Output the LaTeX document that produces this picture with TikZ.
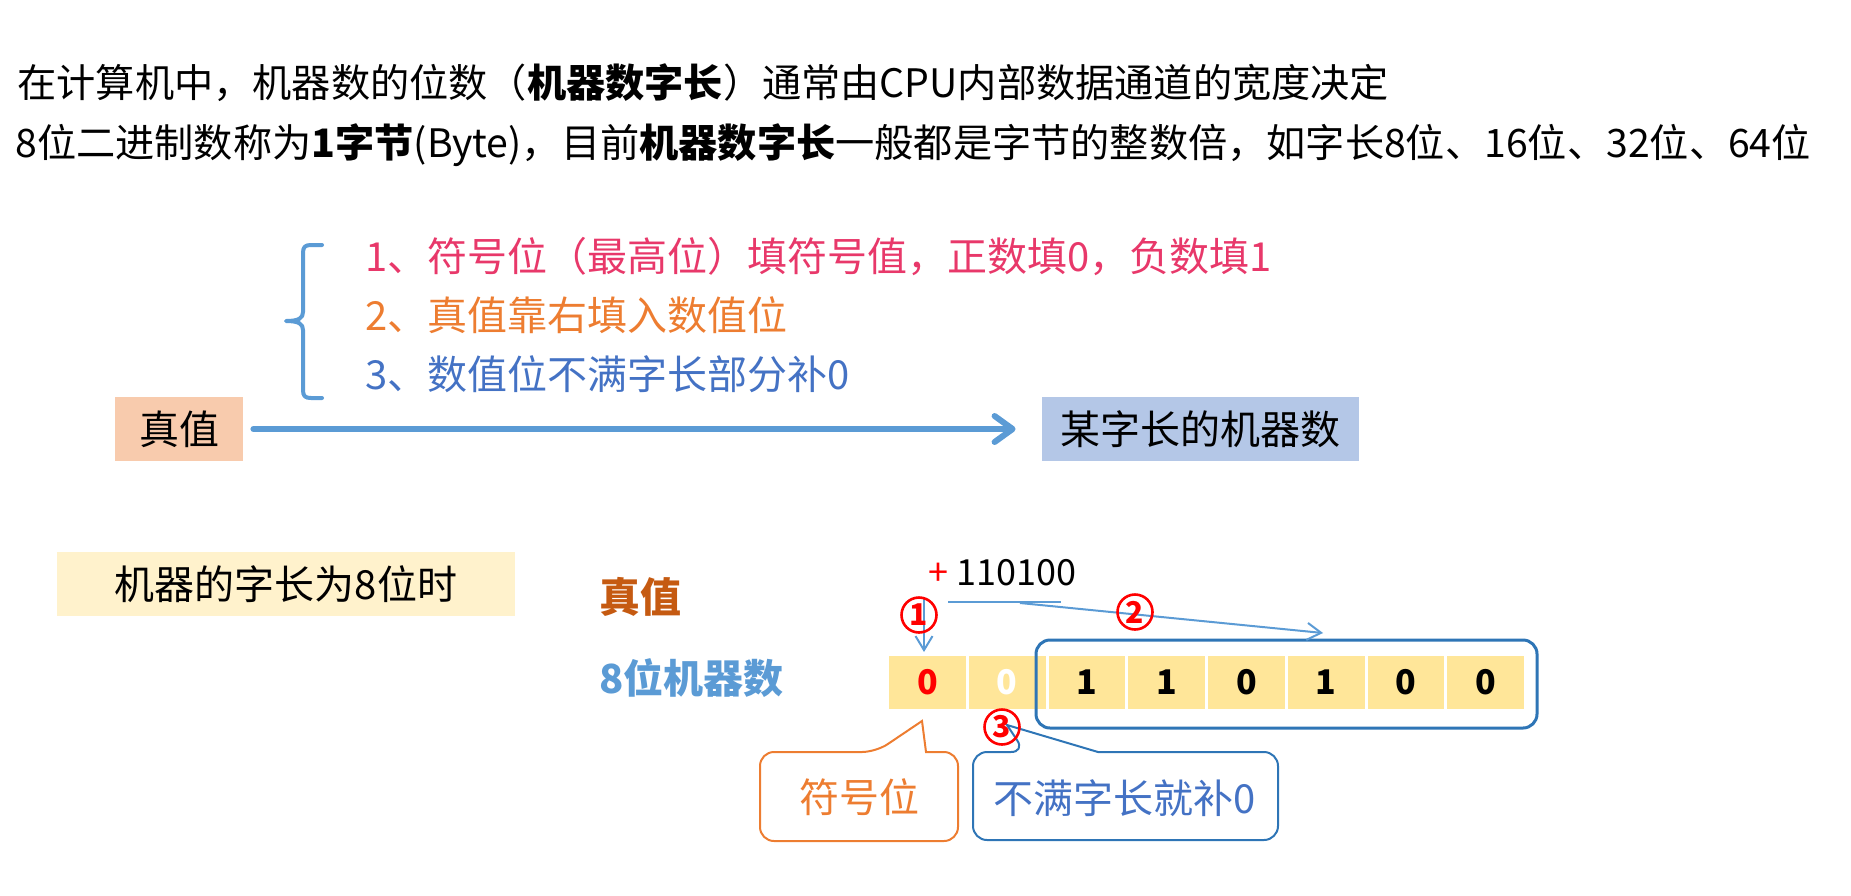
\documentclass[tikz,border=0pt]{standalone}
\usepackage{fontspec}
\setmainfont{Noto Sans CJK SC}
\usetikzlibrary{arrows.meta}
\definecolor{cpink}{HTML}{E8386A}
\definecolor{corange}{HTML}{ED7D31}
\definecolor{cblue}{HTML}{4472C4}
\definecolor{lblue}{HTML}{5B9BD5}
\definecolor{dblue}{HTML}{2E75B6}
\definecolor{cbrown}{HTML}{C55A11}
\definecolor{peach}{HTML}{F8CBAD}
\definecolor{boxblue}{HTML}{B4C7E7}
\definecolor{paleyellow}{HTML}{FFF2CC}
\definecolor{cellyellow}{HTML}{FFE699}
\definecolor{cred}{HTML}{FF0000}
\begin{document}
\begin{tikzpicture}[x=0.5pt,y=-0.5pt,
  txt/.style={inner sep=0pt, font=\fontsize{20}{24}\selectfont},
  headtxt/.style={inner sep=0pt, font=\fontsize{19.6}{24}\selectfont},
  fillbox/.style={inner sep=0pt, minimum height=32pt, font=\fontsize{20}{24}\selectfont},
  cellbox/.style={inner sep=0pt, fill=cellyellow, minimum width=38.375pt, minimum height=26.5pt, font=\fontsize{17}{20}\selectfont\bfseries},
  circnum/.style={circle, draw=cred, line width=1.3pt, inner sep=0pt, minimum size=17.5pt, text=cred, font=\fontsize{15}{17}\selectfont\bfseries},
  bigarrow/.style={draw=lblue, line width=3pt, line cap=round, -{Straight Barb[length=9pt,width=13pt,round]}},
  thinarrow/.style={draw=lblue, line width=1pt, -{Straight Barb[length=7pt,width=8.5pt]}},
  callout/.style={line width=1pt, rounded corners=7pt}
]
\useasboundingbox (0,0) rectangle (1851,895);

% header lines
\node[headtxt, anchor=west] (h1) at (17,83) {在计算机中，机器数的位数（\textbf{机器数字长}）通常由CPU内部数据通道的宽度决定};
\node[headtxt, anchor=west] (h2) at (15,145) {8位二进制数称为\textbf{1字节}(Byte)，目前\textbf{机器数字长}一般都是字节的整数倍，如字长8位、16位、32位、64位};

% brace
\draw[lblue, line width=2pt, line cap=round, line join=round]
  (322,245) -- (311,245) .. controls (305,245) and (303,247) .. (303,253)
  -- (303,312) .. controls (303,318) and (299,321) .. (286,321)
  .. controls (299,321) and (303,324) .. (303,330)
  -- (303,390) .. controls (303,396) and (305,398) .. (311,398) -- (322,398);

% rule items
\node[txt, anchor=west, text=cpink] (r1) at (365,257) {1、符号位（最高位）填符号值，正数填0，负数填1};
\node[txt, anchor=west, text=corange] (r2) at (365,315) {2、真值靠右填入数值位};
\node[txt, anchor=west, text=cblue] (r3) at (365,374) {3、数值位不满字长部分补0};

% top conversion
\node[fillbox, fill=peach, minimum width=64pt] (zz) at (179,429) {真值};
\node[fillbox, fill=boxblue, minimum width=158.5pt] (mz) at (1200.5,429) {某字长的机器数};
\draw[bigarrow, shorten <=5pt, shorten >=13pt] (zz.east) -- (mz.west);

% bottom section
\node[fillbox, fill=paleyellow, minimum width=229pt] (wl) at (286,584) {机器的字长为8位时};
\node[txt, text=cbrown, font=\fontsize{20.5}{24}\selectfont\bfseries, anchor=west] (tv) at (599,597) {真值};
\node[txt, text=lblue, font=\fontsize{20}{24}\selectfont\bfseries, anchor=west] (mn) at (599,678) {8位机器数};

\node[inner sep=0pt, anchor=west, font=\fontsize{18}{20}\selectfont] (val) at (928,573) {\textcolor{cred}{+} 110100};

% cells
\foreach \i/\d/\c in {1/0/cred, 2/0/white, 3/1/black, 4/1/black, 5/0/black, 6/1/black, 7/0/black, 8/0/black} {
  \node[cellbox, text=\c] (c\i) at ({927.375+79.75*(\i-1)},682.5) {\d};
}

% rounded frame around value bits
\draw[dblue, line width=1.5pt, rounded corners=7pt] (1036,640) rectangle (1537,728);

% callouts
\draw[callout, draw=corange] (926,752) -- (958,752) -- (958,841) -- (760,841) -- (760,752) -- (876,752) [sharp corners] -- (922,721) -- cycle;
\node[txt, text=corange] (sg) at (859,797) {符号位};
\draw[callout, draw=dblue] (1098,752) -- (1278,752) -- (1278,840) -- (973,840) -- (973,752) -- (1025,752) [sharp corners] -- (1007,725) -- cycle;
\node[txt, text=cblue] (bz) at (1125,798) {不满字长就补0};

% step arrows
\coordinate (a1s) at (924,598);
\coordinate (a1e) at (924,652);
\draw[thinarrow] (a1s) -- (a1e);
\coordinate (a2h) at (948,602);
\coordinate (a2k) at (1061,602);
\draw[lblue, line width=1pt] (a2h) -- (a2k);
\coordinate (a2s) at (1020,603);
\coordinate (a2e) at (1323,633);
\draw[thinarrow] (a2s) -- (a2e);

% circled numbers
\node[circnum] (n1) at (919,615) {1};
\node[circnum] (n2) at (1135,612) {2};
\node[circnum] (n3) at (1002,727) {3};
\end{tikzpicture}
\end{document}
